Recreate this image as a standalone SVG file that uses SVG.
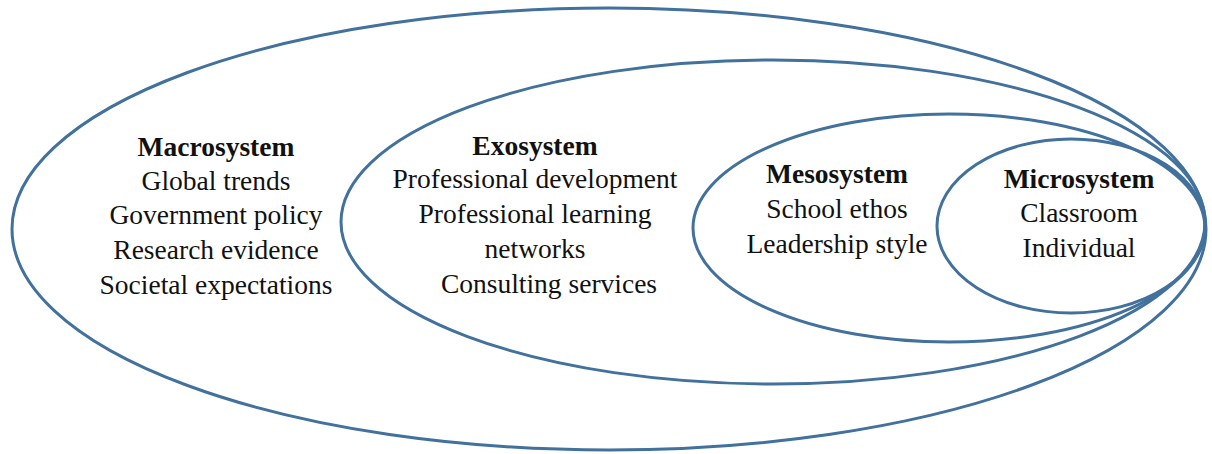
<svg xmlns="http://www.w3.org/2000/svg" width="1212" height="454" viewBox="0 0 1212 454">
<style>
.ring{fill:none;stroke:#41719c;stroke-width:3}
text{font-family:"Liberation Serif","Times New Roman",serif;font-size:27.5px;fill:#111;text-anchor:middle}
.h{font-weight:bold}
</style>
<rect width="1212" height="454" fill="#fff"/>
<g id="macrosystem">
<ellipse class="ring" cx="609" cy="229" rx="597" ry="221"/>
<text x="216" y="156" class="h">Macrosystem</text>
<text x="216" y="190">Global trends</text>
<text x="216" y="224">Government policy</text>
<text x="216" y="259">Research evidence</text>
<text x="216" y="294">Societal expectations</text>
</g>
<g id="exosystem">
<ellipse class="ring" cx="773" cy="222" rx="432" ry="162"/>
<text x="535" y="155" class="h">Exosystem</text>
<text x="535" y="188">Professional development</text>
<text x="535" y="223">Professional learning</text>
<text x="535" y="258">networks</text>
<text x="549" y="293">Consulting services</text>
</g>
<g id="mesosystem">
<ellipse class="ring" cx="949" cy="228" rx="256" ry="114"/>
<text x="837" y="183" class="h">Mesosystem</text>
<text x="837" y="218">School ethos</text>
<text x="837" y="253">Leadership style</text>
</g>
<g id="microsystem">
<ellipse class="ring" cx="1071" cy="226" rx="134" ry="87"/>
<text x="1079" y="188" class="h">Microsystem</text>
<text x="1079" y="222">Classroom</text>
<text x="1079" y="257">Individual</text>
</g>
<g id="connectors"/>
</svg>
